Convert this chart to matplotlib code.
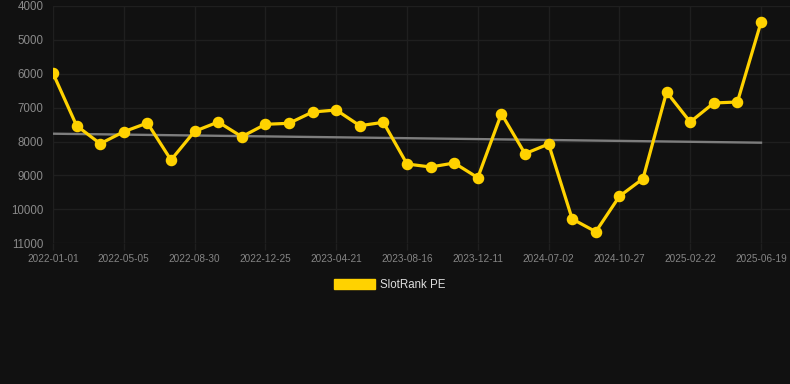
import matplotlib
matplotlib.use("Agg")
import matplotlib.pyplot as plt
from matplotlib.patches import Patch

plt.rcParams['font.family'] = ['Liberation Sans', 'DejaVu Sans']

values = [5985, 7531, 8062, 7708, 7451, 8543, 7696, 7422, 7855, 7490,
          7460, 7127, 7068, 7531, 7431, 8661, 8749, 8631, 9065, 7177,
          8357, 8071, 10283, 10658, 9614, 9094, 6537, 7422, 6861, 6832, 4481]
tick_labels = ["2022-01-01", "2022-05-05", "2022-08-30", "2022-12-25", "2023-04-21",
               "2023-08-16", "2023-12-11", "2024-07-02", "2024-10-27", "2025-02-22",
               "2025-06-19"]
tick_step = 3
trend_ends = [7767, 8032]
y_ticks = [4000, 5000, 6000, 7000, 8000, 9000, 10000, 11000]
series_name = "SlotRank PE"

BG = "#111111"
GRID = "#1f1f1f"
YELLOW = "#FFD200"

W, H = 790, 384
fig = plt.figure(figsize=(W / 100, H / 100), dpi=100, facecolor=BG)
left_px, right_px, top_px, bot_px = 53, 790, 6, 243.3
ax = fig.add_axes([left_px / W, 1 - bot_px / H, (right_px - left_px) / W, (bot_px - top_px) / H])
ax.set_facecolor(BG)

n = len(values)
xs = list(range(n))
ax.plot([0, n - 1], trend_ends, color="#7d7d7d", lw=1.7, zorder=2)
ax.plot(xs, values, color=YELLOW, lw=2.3, marker="o", markersize=7.3,
        markerfacecolor=YELLOW, markeredgecolor=YELLOW, zorder=3)

ax.set_xlim(0, (right_px - left_px) / 23.6)
ax.set_ylim(11000, 4000)
ax.set_yticks(y_ticks)
ax.set_yticklabels([str(v) for v in y_ticks])
ax.set_xticks(xs[::tick_step])
ax.set_xticklabels(tick_labels)

ax.grid(True, color=GRID, lw=1)
ax.set_axisbelow(True)
for s in ax.spines.values():
    s.set_visible(False)
ax.tick_params(axis="y", length=0, pad=7, labelsize=8.3, labelcolor="#8a8a8a")
ax.tick_params(axis="x", length=5, width=1, color=GRID, pad=3, labelsize=7.2, labelcolor="#858585")

handle = Patch(facecolor=YELLOW, edgecolor=YELLOW)
leg = fig.legend([handle], [series_name], loc="center", bbox_to_anchor=(390 / W, 1 - 284.5 / H),
                 frameon=False, fontsize=8.3, handlelength=3.5, handleheight=0.95,
                 handletextpad=0.5, labelcolor="#dddddd")

fig.savefig("out.png", dpi=100, facecolor=BG)
